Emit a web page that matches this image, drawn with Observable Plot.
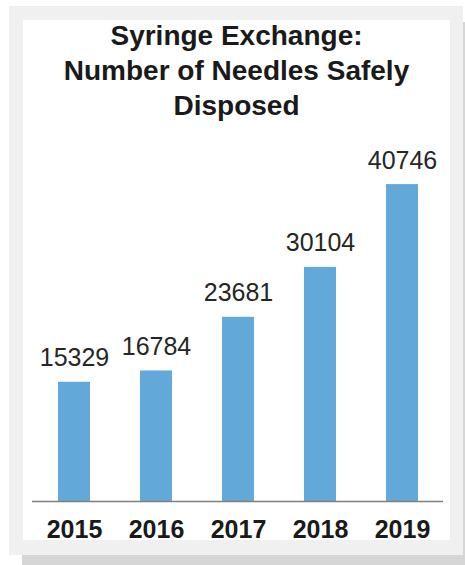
<!DOCTYPE html>
<html>
<head>
<meta charset="utf-8">
<script src="https://cdn.jsdelivr.net/npm/d3@7"></script>
<script src="https://cdn.jsdelivr.net/npm/@observablehq/plot@0.6"></script>
<style>
  html, body { margin: 0; padding: 0; background: #ffffff; }
  body { width: 465px; height: 565px; position: relative; overflow: hidden;
         font-family: "Liberation Sans", Arial, sans-serif; }
  #shadowB { position: absolute; left: 22px; top: 555px; width: 443px; height: 10px; background: #d6d6d6; }
  #shadowR { position: absolute; left: 463px; top: 22px; width: 2px; height: 543px; background: #d6d6d6; }
  #frame { position: absolute; left: 9px; top: 6px; width: 454px; height: 549px; background: #f0f0f0; }
  #panel { position: absolute; left: 23px; top: 20px; width: 427px; height: 520px; background: #ffffff; }
  #title { position: absolute; left: 23px; top: 18px; width: 427px; text-align: center;
           font-weight: bold; font-size: 28px; line-height: 35px; color: #1a1a1a; }
  #chart { position: absolute; left: 23px; top: 120px; }
</style>
</head>
<body>
<div id="shadowB"></div>
<div id="shadowR"></div>
<div id="frame"></div>
<div id="panel"></div>
<div id="title">Syringe Exchange:<br>Number of Needles Safely<br>Disposed</div>
<div id="chart"></div>
<script>
const years = ["2015", "2016", "2017", "2018", "2019"];
const needles = [15329, 16784, 23681, 30104, 40746];

const data = years.map((y, i) => ({year: y, value: needles[i]}));

const chart = Plot.plot({
  width: 427,
  height: 420,
  marginLeft: 9,
  marginRight: 7,
  marginTop: 31,
  marginBottom: 39,
  style: {fontFamily: "'Liberation Sans', Arial, sans-serif", fontSize: "25px", background: "transparent", overflow: "visible"},
  x: {domain: years, paddingInner: 0.61, paddingOuter: 0.3, label: null},
  y: {domain: [0, 45000], axis: null},
  marks: [
    Plot.barY(data, {x: "year", y: "value", fill: "#62a8d9"}),
    Plot.ruleY([0], {stroke: "#7f7f7f", strokeWidth: 1.5}),
    Plot.text(data, {x: "year", y: "value", text: d => String(d.value), lineAnchor: "bottom", dy: -16, fill: "#262626", fontSize: 25}),
    Plot.axisX({tickSize: 0, tickPadding: 19, fontWeight: "bold", fill: "#1a1a1a", fontSize: 25, label: null})
  ]
});
document.getElementById("chart").appendChild(chart);
</script>
</body>
</html>
